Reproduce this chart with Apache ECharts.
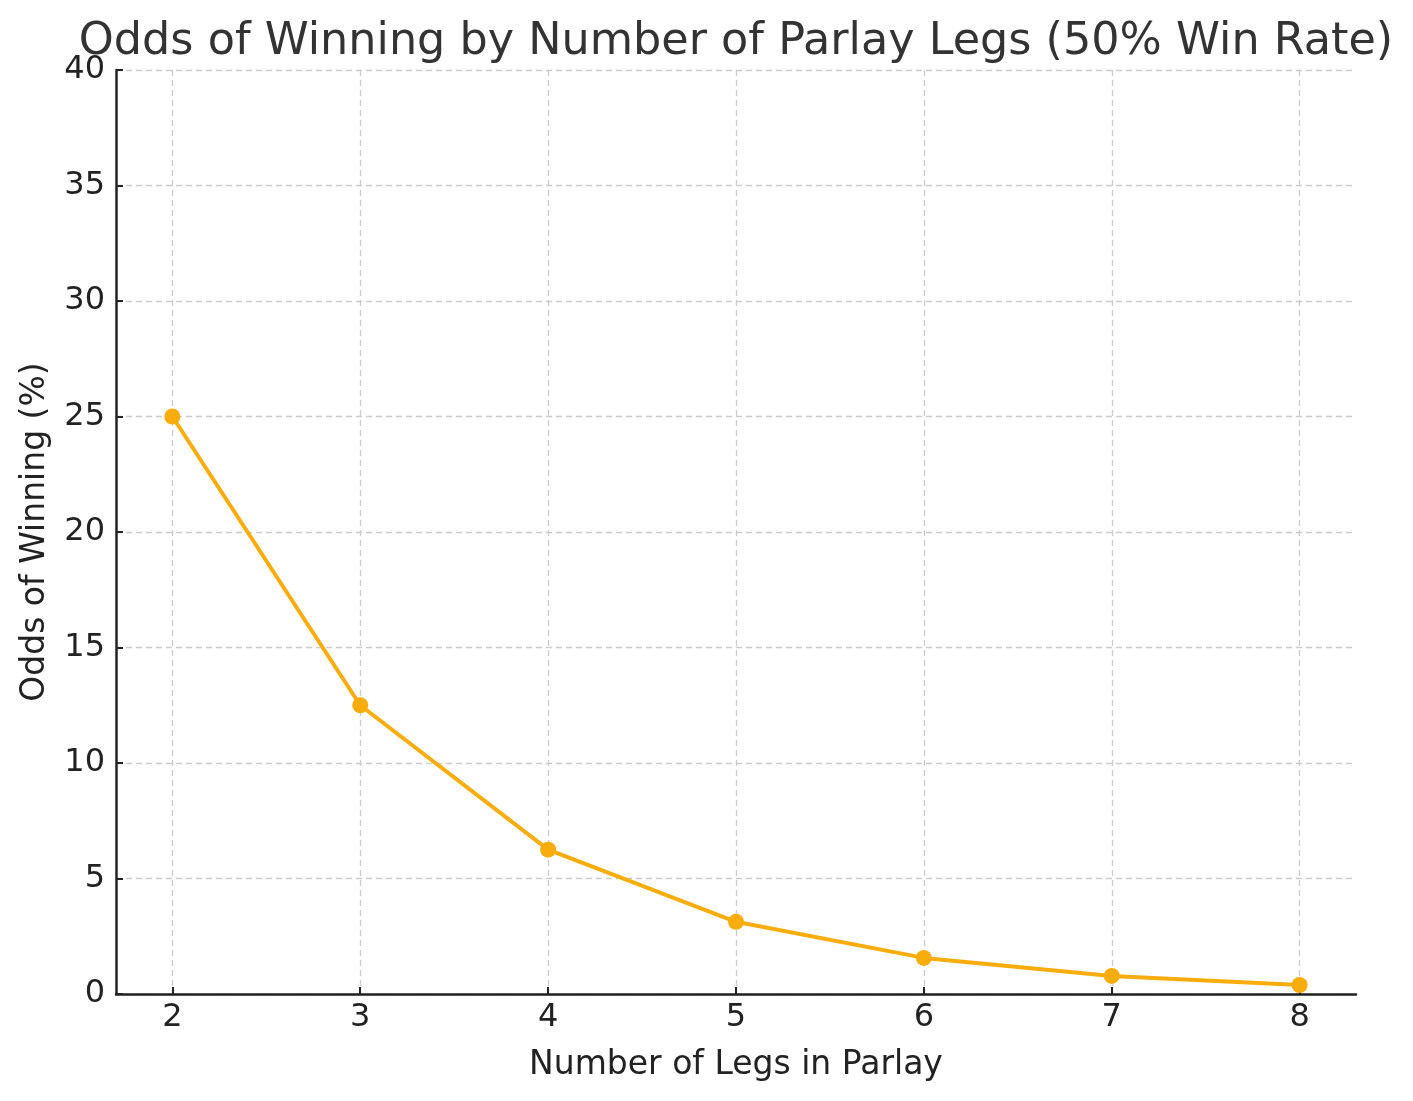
<!DOCTYPE html>
<html>
<head>
<meta charset="utf-8">
<script src="https://cdn.jsdelivr.net/npm/echarts@6/dist/echarts.min.js"></script>
<style>html,body{margin:0;padding:0;background:#fff}#c{width:1413px;height:1101px}</style>
</head>
<body>
<div id="c"></div>
<script>
const legs = [2, 3, 4, 5, 6, 7, 8];
const odds = [25, 12.5, 6.25, 3.125, 1.5625, 0.78125, 0.390625];
const xTicks = [2, 3, 4, 5, 6, 7, 8];

const chart = echarts.init(document.getElementById('c'));
const font = 'DejaVu Sans';
chart.setOption({
  animation: false,
  backgroundColor: '#fff',
  title: {
    text: 'Odds of Winning by Number of Parlay Legs (50% Win Rate)',
    left: 731, textAlign: 'center', top: 15,
    textStyle: {fontFamily: font, fontSize: 44.5, fontWeight: 'normal', color: '#333'}
  },
  grid: {left: 116, right: 57, top: 70, bottom: 107},
  xAxis: {
    type: 'value', min: 1.7, max: 8.3,
    name: 'Number of Legs in Parlay', nameLocation: 'middle', nameGap: 55,
    nameTextStyle: {fontFamily: font, fontSize: 33, color: '#222'},
    axisLine: {show: true, lineStyle: {color: '#222', width: 2.5}},
    axisTick: {show: true, inside: true, length: 7, customValues: xTicks, lineStyle: {color: '#222', width: 2}},
    axisLabel: {customValues: xTicks, fontFamily: font, fontSize: 32, color: '#222', margin: 8},
    splitLine: {show: true, lineStyle: {color: '#ccc', type: [6, 4], width: 1.3}}
  },
  yAxis: {
    type: 'value', min: 0, max: 40, interval: 5,
    name: 'Odds of Winning (%)', nameLocation: 'middle', nameGap: 64,
    nameTextStyle: {fontFamily: font, fontSize: 33, color: '#222'},
    axisLine: {show: true, lineStyle: {color: '#222', width: 2.5}},
    axisTick: {show: true, inside: true, length: 7, lineStyle: {color: '#222', width: 2}},
    axisLabel: {fontFamily: font, fontSize: 32, color: '#222', margin: 11},
    splitLine: {show: true, lineStyle: {color: '#ccc', type: [6, 4], width: 1.3}}
  },
  series: [{
    type: 'line',
    data: legs.map((l, i) => [l, odds[i]]),
    symbol: 'circle', symbolSize: 16,
    itemStyle: {color: '#F9AD0C'},
    lineStyle: {color: '#F9AD0C', width: 4}
  }]
});
</script>
</body>
</html>
